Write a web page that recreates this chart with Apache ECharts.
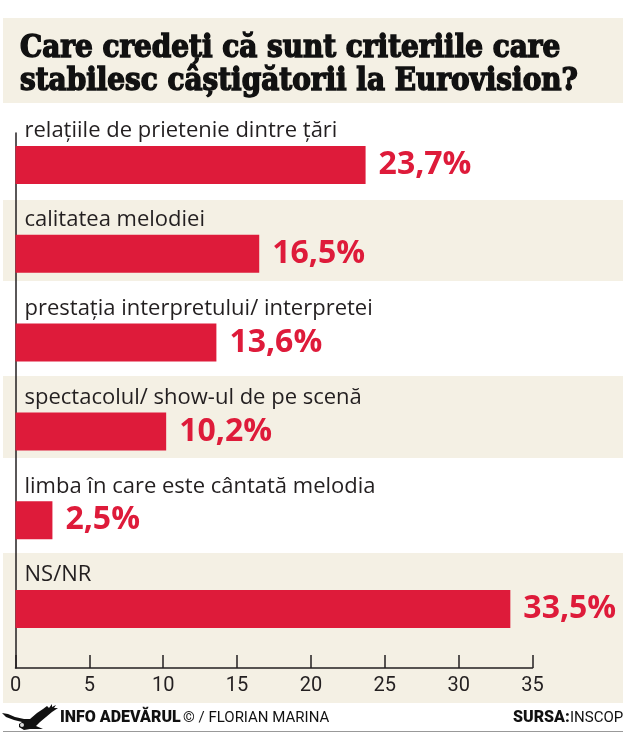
<!DOCTYPE html>
<html>
<head>
<meta charset="utf-8">
<style>html,body{margin:0;padding:0;background:#fff}#chart{width:630px;height:750px}</style>
<script src="https://cdn.jsdelivr.net/npm/echarts@6/dist/echarts.min.js"></script>
</head>
<body>
<div id="chart"></div>
<script>
// date
var categories = ['relațiile de prietenie dintre țări', 'calitatea melodiei', 'prestația interpretului/ interpretei', 'spectacolul/ show-ul de pe scenă', 'limba în care este cântată melodia', 'NS/NR'];
var values = [23.7, 16.5, 13.6, 10.2, 2.5, 33.5];
var tickValues = [0, 5, 10, 15, 20, 25, 30, 35];
var titleText = 'Care credeți că sunt criteriile care\nstabilesc câștigătorii la Eurovision?';

var BEIGE = '#f4f0e4', RED = '#de1b3a', INK = '#231f20';
var chart = echarts.init(document.getElementById('chart'));

function band(y, h) {
    return { type: 'rect', z: -10, shape: { x: 3, y: y, width: 620, height: h }, style: { fill: BEIGE } };
}
function footer(x, text, bold) {
    return { type: 'text', style: { x: x, y: 718, verticalAlign: 'middle', text: text, fontFamily: 'Roboto', fontWeight: bold ? 900 : 'normal', fontSize: bold ? 16 : 15, fill: '#111' } };
}

var option = {
    backgroundColor: '#fff',
    animation: false,
    title: {
        text: titleText,
        left: 15, top: 27,
        textStyle: { fontFamily: 'DejaVu Serif Condensed, DejaVu Serif', fontWeight: 'bold', fontSize: 31, lineHeight: 33, color: '#111', textBorderColor: '#111', textBorderWidth: 1.4 }
    },
    grid: [
        { left: 15.5, top: 120.5, width: 517, height: 533 },  // barele
        { left: 15.5, top: 133, width: 517, height: 535 }     // axele
    ],
    xAxis: [
        { type: 'value', gridIndex: 0, min: 0, max: 35, show: false },
        {
            type: 'value', gridIndex: 1, min: 0, max: 35, interval: 5,
            axisLine: { show: true, lineStyle: { color: INK, width: 1.5 } },
            axisTick: { show: true, inside: true, length: 13, lineStyle: { color: INK, width: 1.5 } },
            axisLabel: { margin: 8, fontFamily: 'Roboto', fontSize: 20, color: INK,
                formatter: function (v) { return tickValues.indexOf(v) >= 0 ? String(v) : ''; } },
            splitLine: { show: false }
        }
    ],
    yAxis: [
        {
            type: 'category', gridIndex: 0, data: categories, inverse: true,
            axisLine: { show: false }, axisTick: { show: false },
            axisLabel: { inside: true, margin: 9, verticalAlign: 'bottom', padding: [0, 0, 23, 0], fontFamily: 'Open Sans', fontSize: 22, color: INK }
        },
        {
            type: 'value', gridIndex: 1, min: 0, max: 1, position: 'left',
            axisLine: { show: true, lineStyle: { color: INK, width: 1.5 } },
            axisTick: { show: false }, axisLabel: { show: false }, splitLine: { show: false }
        }
    ],
    series: [
        {
            type: 'bar', xAxisIndex: 0, yAxisIndex: 0, data: values, barWidth: 38,
            itemStyle: { color: RED },
            label: {
                show: true, position: 'right', distance: 13, color: RED,
                fontFamily: 'Open Sans', fontWeight: 'bold', fontSize: 32,
                formatter: function (p) { return String(p.value).replace('.', ',') + '%'; }
            }
        },
        { type: 'line', xAxisIndex: 1, yAxisIndex: 1, data: [], silent: true }
    ],
    graphic: [
        { type: 'rect', z: -10, shape: { x: 3, y: 18, width: 620, height: 85 }, style: { fill: BEIGE } },
        band(200, 81), band(376, 82), band(553, 150),
        // vultur
        { type: 'polygon', shape: { points: [[2, 713], [8, 714], [15, 717], [24, 719], [30, 719], [37, 713], [43, 709], [47, 706], [49, 708], [52, 704], [52, 707], [56, 705], [54, 708], [58, 708], [52, 712], [46, 717], [40, 722], [36, 726], [43, 729], [37, 729], [30, 729], [24, 730], [19, 727], [19, 724], [22, 722], [14, 720], [6, 717]] }, style: { fill: '#111' } },
        { type: 'circle', shape: { cx: 22, cy: 725, r: 2 }, style: { fill: '#ddd' } },
        footer(60, 'INFO ADEVĂRUL', true),
        footer(183, '© / FLORIAN MARINA', false),
        footer(513, 'SURSA:', true),
        footer(570, 'INSCOP', false),
        { type: 'rect', shape: { x: 3, y: 731, width: 620, height: 1 }, style: { fill: '#999' } }
    ]
};
chart.setOption(option);
</script>
</body>
</html>
